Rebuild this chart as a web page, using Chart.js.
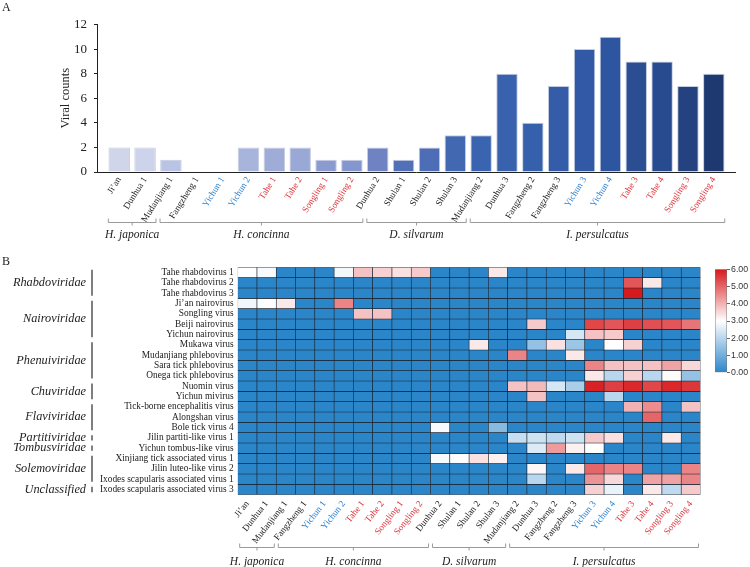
<!DOCTYPE html>
<html>
<head>
<meta charset="utf-8">
<script src="https://cdn.jsdelivr.net/npm/chart.js@4.4.0/dist/chart.umd.min.js"></script>
<style>
  html, body { margin: 0; padding: 0; background: #fff; }
  #wrap { position: relative; width: 750px; height: 567px; overflow: hidden; }
  canvas { position: absolute; }
</style>
</head>
<body>
<div id="wrap">
  <canvas id="chartA" width="750" height="250" style="left:0;top:0"></canvas>
  <canvas id="chartB" width="750" height="317" style="left:0;top:250px"></canvas>
  <canvas id="chartC" width="50" height="125" style="left:700px;top:255px"></canvas>
</div>
<script>
// sampling sites (columns of both panels)
const sites = ['Ji\u2019an', 'Dunhua 1', 'Mudanjiang 1', 'Fangzheng 1', 'Yichun 1', 'Yichun 2',
  'Tahe 1', 'Tahe 2', 'Songling 1', 'Songling 2', 'Dunhua 2', 'Shulan 1', 'Shulan 2', 'Shulan 3',
  'Mudanjiang 2', 'Dunhua 3', 'Fangzheng 2', 'Fangzheng 3', 'Yichun 3', 'Yichun 4',
  'Tahe 3', 'Tahe 4', 'Songling 3', 'Songling 4'];

// panel A
const viralCounts = [2, 2, 1, 0, 0, 2, 2, 2, 1, 1, 2, 1, 2, 3, 3, 8, 4, 7, 10, 11, 9, 9, 7, 8];
const countTicks = [0, 12];

// tick species groups (number of sites in each)
const species = ['H. japonica', 'H. concinna', 'D. silvarum', 'I. persulcatus'];
const speciesSpan = [2, 8, 4, 10];

// panel B rows
const viruses = ['Tahe rhabdovirus 1', 'Tahe rhabdovirus 2', 'Tahe rhabdovirus 3',
  'Ji\u2019an nairovirus', 'Songling virus', 'Beiji nairovirus', 'Yichun nairovirus',
  'Mukawa virus', 'Mudanjiang phlebovirus', 'Sara tick phlebovirus', 'Onega tick phlebovirus',
  'Nuomin virus', 'Yichun mivirus', 'Tick-borne encephalitis virus', 'Alongshan virus',
  'Bole tick virus 4', 'Jilin partiti-like virus 1', 'Yichun tombus-like virus',
  'Xinjiang tick associated virus 1', 'Jilin luteo-like virus 2',
  'Ixodes scapularis associated virus 1', 'Ixodes scapularis associated virus 3'];

const families = ['Rhabdoviridae', 'Nairoviridae', 'Phenuiviridae', 'Chuviridae', 'Flaviviridae',
  'Partitiviridae', 'Tombusviridae', 'Solemoviridae', 'Unclassified'];
const familyRows = [3, 4, 4, 2, 3, 1, 1, 3, 1];

// heat values, one row per virus, one column per site
const heat = [
  [3.0, 2.9, 0, 0, 0, 2.8, 3.8, 3.6, 3.4, 3.7, 0, 0, 0, 3.3, 0, 0, 0, 0, 0, 0, 0, 0, 0, 0],
  [0, 0, 0, 0, 0, 0, 0, 0, 0, 0, 0, 0, 0, 0, 0, 0, 0, 0, 0, 0, 5.2, 3.3, 0, 0],
  [0, 0, 0, 0, 0, 0, 0, 0, 0, 0, 0, 0, 0, 0, 0, 0, 0, 0, 0, 0, 6.0, 0, 0, 0],
  [2.8, 2.95, 3.3, 0, 0, 4.6, 0, 0, 0, 0, 0, 0, 0, 0, 0, 0, 0, 0, 0, 0, 0, 0, 0, 0],
  [0, 0, 0, 0, 0, 0, 3.8, 3.8, 0, 0, 0, 0, 0, 0, 0, 0, 0, 0, 0, 0, 0, 0, 0, 0],
  [0, 0, 0, 0, 0, 0, 0, 0, 0, 0, 0, 0, 0, 0, 0, 3.7, 0, 0, 5.4, 5.2, 5.5, 5.3, 5.2, 4.8],
  [0, 0, 0, 0, 0, 0, 0, 0, 0, 0, 0, 0, 0, 0, 0, 0, 0, 2.4, 3.8, 3.7, 0, 0, 0, 0],
  [0, 0, 0, 0, 0, 0, 0, 0, 0, 0, 0, 0, 3.3, 0, 0, 1.5, 3.4, 1.6, 0, 3.0, 3.6, 0, 0, 0],
  [0, 0, 0, 0, 0, 0, 0, 0, 0, 0, 0, 0, 0, 0, 4.6, 0, 0, 3.3, 0, 0, 0, 0, 0, 0],
  [0, 0, 0, 0, 0, 0, 0, 0, 0, 0, 0, 0, 0, 0, 0, 0, 0, 0, 4.6, 3.8, 3.8, 3.8, 4.2, 3.5],
  [0, 0, 0, 0, 0, 0, 0, 0, 0, 0, 0, 0, 0, 0, 0, 0, 0, 0, 3.3, 2.0, 3.6, 2.0, 3.05, 1.5],
  [0, 0, 0, 0, 0, 0, 0, 0, 0, 0, 0, 0, 0, 0, 3.8, 3.9, 2.4, 1.8, 5.9, 5.5, 5.8, 5.4, 5.8, 5.6],
  [0, 0, 0, 0, 0, 0, 0, 0, 0, 0, 0, 0, 0, 0, 0, 3.8, 0, 0, 0, 2.0, 0, 0, 0, 0],
  [0, 0, 0, 0, 0, 0, 0, 0, 0, 0, 0, 0, 0, 0, 0, 0, 0, 0, 0, 0, 4.0, 4.5, 0, 3.8],
  [0, 0, 0, 0, 0, 0, 0, 0, 0, 0, 0, 0, 0, 0, 0, 0, 0, 0, 0, 0, 0, 5.0, 0, 0],
  [0, 0, 0, 0, 0, 0, 0, 0, 0, 0, 2.9, 0, 0, 1.3, 0, 0, 0, 0, 0, 0, 0, 0, 0, 0],
  [0, 0, 0, 0, 0, 0, 0, 0, 0, 0, 0, 0, 0, 0, 2.2, 2.3, 2.1, 2.3, 3.7, 3.4, 0, 0, 3.3, 0],
  [0, 0, 0, 0, 0, 0, 0, 0, 0, 0, 0, 0, 0, 0, 0, 2.5, 4.3, 3.2, 3.0, 0, 0, 0, 0, 0],
  [0, 0, 0, 0, 0, 0, 0, 0, 0, 0, 2.9, 2.95, 3.4, 3.2, 0, 0, 0, 0, 0, 0, 0, 0, 0, 0],
  [0, 0, 0, 0, 0, 0, 0, 0, 0, 0, 0, 0, 0, 0, 0, 3.1, 0, 3.3, 5.0, 4.6, 4.6, 0, 0, 4.6],
  [0, 0, 0, 0, 0, 0, 0, 0, 0, 0, 0, 0, 0, 0, 0, 2.0, 0, 0, 4.4, 3.5, 0, 4.2, 4.2, 4.6],
  [0, 0, 0, 0, 0, 0, 0, 0, 0, 0, 0, 0, 0, 0, 0, 0, 0, 0, 3.6, 2.7, 0, 3.3, 2.1, 3.7]
];
const heatRange = [0, 6];

const SERIF = "'Liberation Serif', 'Times New Roman', serif";
const SANS = "'Liberation Sans', Arial, sans-serif";

const barColors = ['#d0d5ea', '#cdd3ea', '#b9c3e3', '#b0bbe0', '#aab6dd', '#a7b4dc', '#a0acd8', '#9aa8d6',
  '#8b9bd0', '#8595cd', '#6f83c3', '#5170b7', '#4d6db6', '#4368b2', '#3b64b0', '#3862ae',
  '#3560ab', '#345ca9', '#3159a5', '#2e55a0', '#2b4d92', '#284a8e', '#23427f', '#1e3870'];

function siteColor(name) {
  if (name.startsWith('Yichun')) return '#2a7fd0';
  if (name.startsWith('Tahe') || name.startsWith('Songling')) return '#dc3239';
  return '#222';
}

const BLUE = [43, 133, 201], WHITE = [255, 255, 255], RED = [215, 25, 28];
function heatColor(v) {
  const t = Math.max(0, Math.min(v, 6)) / 3;
  const a = t <= 1 ? BLUE : WHITE, b = t <= 1 ? WHITE : RED, f = t <= 1 ? t : t - 1;
  return 'rgb(' + a.map((x, i) => Math.round(x + (b[i] - x) * f)).join(',') + ')';
}

function drawSpecies(chart, bracketY, nameY) {
  const ctx = chart.ctx, xs = chart.scales.x;
  const colW = Math.abs(xs.getPixelForValue(1) - xs.getPixelForValue(0));
  let start = 0;
  ctx.save();
  ctx.strokeStyle = '#9a9a9a';
  ctx.lineWidth = 1;
  ctx.fillStyle = '#222';
  ctx.font = 'italic 11.5px ' + SERIF;
  ctx.textAlign = 'center';
  ctx.textBaseline = 'middle';
  species.forEach((name, k) => {
    const end = start + speciesSpan[k] - 1;
    const l = xs.getPixelForValue(start) - colW / 2 + 2;
    const r = xs.getPixelForValue(end) + colW / 2 - 2;
    const mid = (l + r) / 2;
    ctx.beginPath();
    ctx.moveTo(l, bracketY - 4); ctx.lineTo(l, bracketY);
    ctx.lineTo(r, bracketY); ctx.lineTo(r, bracketY - 4);
    ctx.moveTo(mid, bracketY); ctx.lineTo(mid, bracketY + 3);
    ctx.stroke();
    ctx.fillText(name, mid, nameY);
    start = end + 1;
  });
  ctx.restore();
}

function panelLetter(ctx, letter, y) {
  ctx.save();
  ctx.fillStyle = '#222';
  ctx.font = '12px ' + SERIF;
  ctx.textBaseline = 'top';
  ctx.fillText(letter, 2, y);
  ctx.restore();
}

// ---------- panel A: viral counts ----------
new Chart(document.getElementById('chartA'), {
  type: 'bar',
  data: {
    datasets: [{
      data: sites.map((s, i) => ({ x: i, y: viralCounts[i] })),
      backgroundColor: barColors,
      borderColor: 'rgba(190,198,222,0.9)',
      borderWidth: 1,
      barPercentage: 0.83,
      categoryPercentage: 1
    }]
  },
  options: {
    responsive: false,
    animation: false,
    layout: { padding: { left: 54, right: 15, top: 24.5, bottom: 0 } },
    plugins: { legend: { display: false }, tooltip: { enabled: false } },
    scales: {
      x: {
        type: 'linear', offset: false, min: -0.86, max: 23.82,
        afterBuildTicks: s => { s.ticks = sites.map((_, i) => ({ value: i })); },
        afterFit: s => { s.height = 78; },
        grid: { display: false, drawTicks: false },
        border: { display: true, color: '#222', width: 1 },
        ticks: {
          autoSkip: false, minRotation: 58, maxRotation: 58, padding: 3,
          font: { family: SERIF, size: 9.2 },
          color: c => siteColor(sites[c.index]),
          callback: v => sites[v]
        }
      },
      y: {
        min: countTicks[0], max: countTicks[1],
        afterFit: s => { s.width = 43; },
        ticks: { stepSize: 2, padding: 7, color: '#222', font: { family: SERIF, size: 13 } },
        grid: { drawOnChartArea: false, tickLength: 3, color: '#222' },
        border: { color: '#222' },
        title: { display: true, text: 'Viral counts', color: '#222', padding: { top: 4, bottom: 0 },
          font: { family: SERIF, size: 12.5 } }
      }
    }
  },
  plugins: [{
    id: 'annotA',
    afterDraw(chart) {
      panelLetter(chart.ctx, 'A', 2);
      drawSpecies(chart, 222.5, 235);
    }
  }]
});

// ---------- panel B: heatmap ----------
new Chart(document.getElementById('chartB'), {
  type: 'bar',
  data: {
    labels: sites,
    datasets: viruses.map((v, r) => ({
      label: v,
      data: heat[r].map((h, i) => ({ x: sites[i], y: 1, v: h })),
      backgroundColor: c => heatColor(c.raw.v),
      borderColor: '#1c2835',
      borderWidth: 0.65,
      borderSkipped: false,
      barPercentage: 1,
      categoryPercentage: 1,
      yAxisID: 'y'
    }))
  },
  options: {
    responsive: false,
    animation: false,
    layout: { padding: { left: 0, right: 49.5, top: 17.3, bottom: 0 } },
    plugins: { legend: { display: false }, tooltip: { enabled: false } },
    scales: {
      x: {
        stacked: true,
        afterFit: s => { s.height = 72.3; },
        grid: { display: false, drawTicks: false },
        border: { display: false },
        ticks: {
          autoSkip: false, minRotation: 52, maxRotation: 52, padding: 4,
          font: { family: SERIF, size: 9.2 },
          color: c => siteColor(sites[c.index])
        }
      },
      y: { stacked: true, min: 0, max: viruses.length, reverse: true, display: false },
      rows: {
        type: 'category', labels: viruses, position: 'left', offset: true,
        afterFit: s => { s.width = 237.7; },
        grid: { display: false, drawTicks: false },
        border: { display: false },
        ticks: { autoSkip: false, padding: 4, color: '#222', font: { family: SERIF, size: 9.4 } }
      }
    }
  },
  plugins: [{
    id: 'annotB',
    afterDraw(chart) {
      const ctx = chart.ctx, rs = chart.scales.rows;
      const rowH = (rs.bottom - rs.top) / viruses.length;
      panelLetter(ctx, 'B', 6);
      ctx.save();
      ctx.fillStyle = '#222';
      ctx.strokeStyle = '#555';
      ctx.lineWidth = 1.5;
      ctx.font = 'italic 12.3px ' + SERIF;
      ctx.textAlign = 'right';
      ctx.textBaseline = 'middle';
      let r0 = 0;
      families.forEach((name, k) => {
        const top = rs.top + r0 * rowH, bot = top + familyRows[k] * rowH;
        ctx.beginPath();
        ctx.moveTo(92, top + 2.5); ctx.lineTo(92, bot - 2.5);
        ctx.stroke();
        ctx.fillText(name, 86, (top + bot) / 2);
        r0 += familyRows[k];
      });
      ctx.restore();
      drawSpecies(chart, 297.5, 311.5);
    }
  }]
});

// ---------- colour scale ----------
new Chart(document.getElementById('chartC'), {
  type: 'bar',
  data: {
    labels: [''],
    datasets: [{
      data: [heatRange],
      backgroundColor: c => {
        const a = c.chart.chartArea;
        if (!a) return heatColor(3);
        const g = c.chart.ctx.createLinearGradient(0, a.bottom, 0, a.top);
        g.addColorStop(0, heatColor(0));
        g.addColorStop(0.5, heatColor(3));
        g.addColorStop(1, heatColor(6));
        return g;
      },
      borderColor: '#777',
      borderWidth: 0.8,
      borderSkipped: false,
      barPercentage: 1,
      categoryPercentage: 1
    }]
  },
  options: {
    responsive: false,
    animation: false,
    layout: { padding: { left: 15, right: 0, top: 14.3, bottom: 7.3 } },
    plugins: { legend: { display: false }, tooltip: { enabled: false } },
    scales: {
      x: { display: false },
      y: {
        position: 'right', min: heatRange[0], max: heatRange[1],
        afterFit: s => { s.width = 23; },
        ticks: { stepSize: 1, padding: 1, color: '#333', font: { family: SANS, size: 8.8 },
          callback: v => v.toFixed(2) },
        grid: { drawOnChartArea: false, tickLength: 3, color: '#666' },
        border: { display: false }
      }
    }
  }
});
</script>
</body>
</html>
